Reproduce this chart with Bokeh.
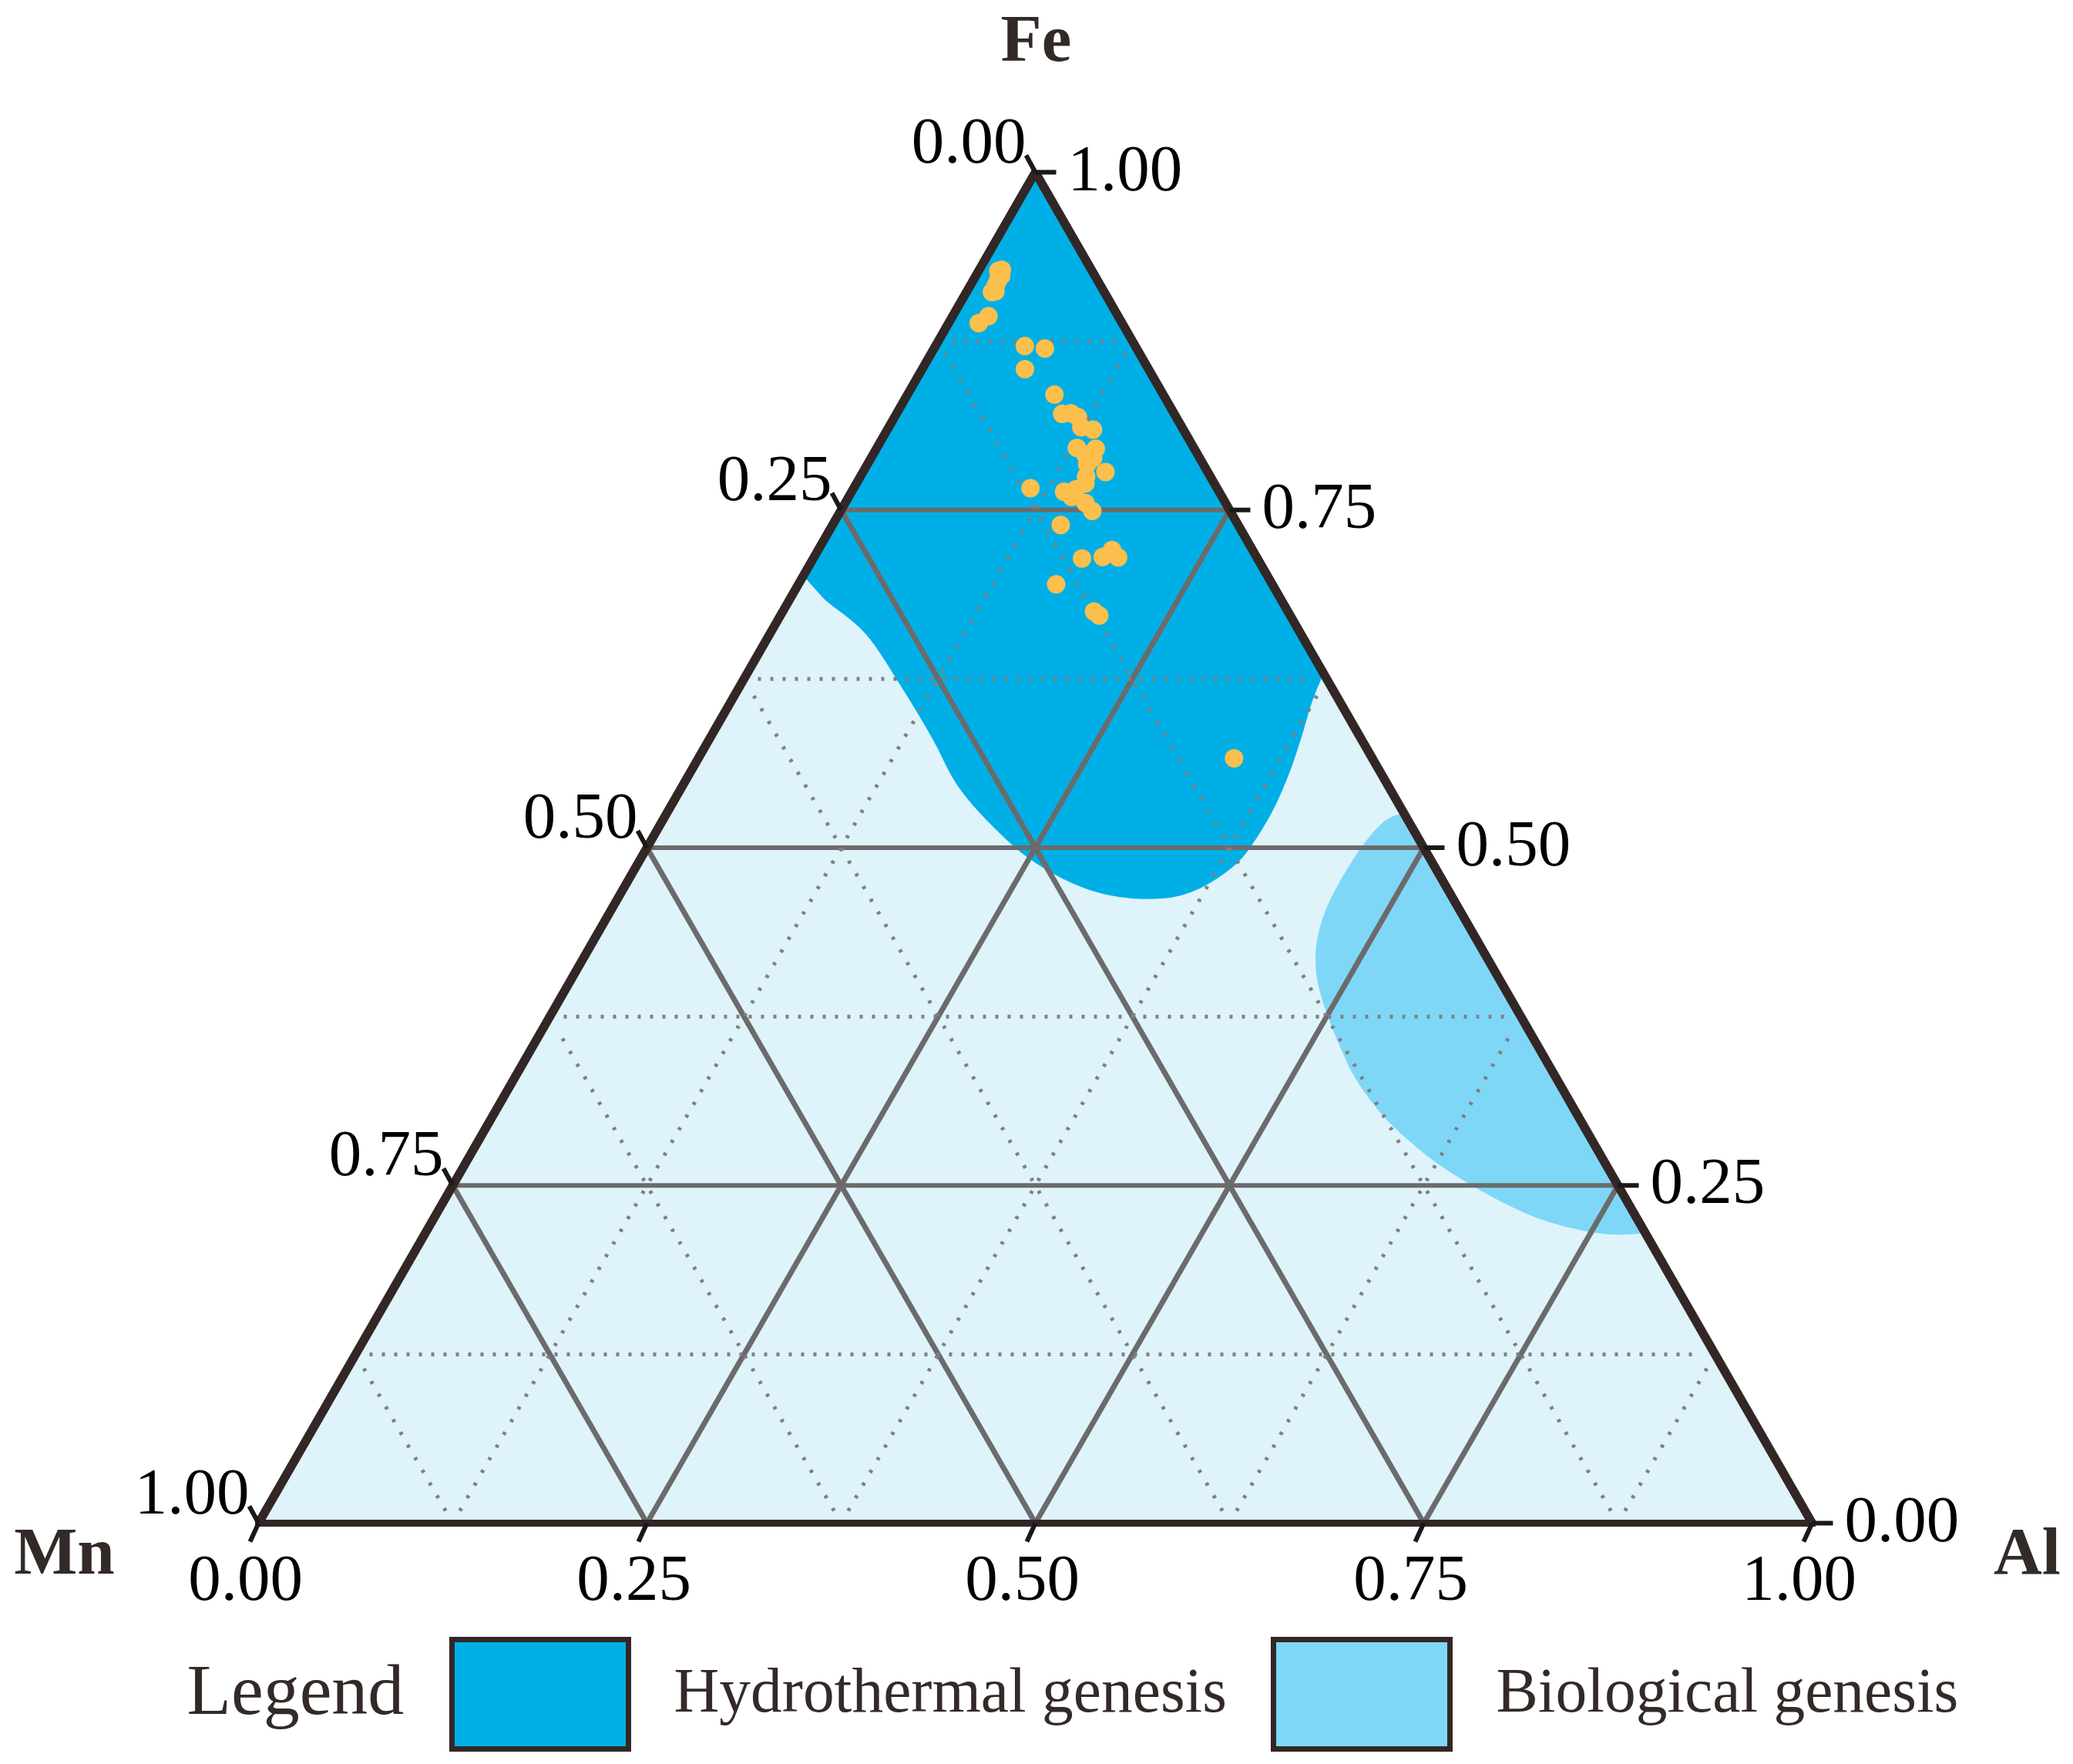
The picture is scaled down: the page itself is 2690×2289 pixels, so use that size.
from bokeh.plotting import figure
from bokeh.embed import file_html
from bokeh.resources import INLINE
from bokeh.core.properties import value

# ---------- data ----------
point_fe = [.9278,.9270,.9232,.9194,.9156,.9113,.9118,.8934,.8883,.8713,.8695,.8542,.8354,.8211,.8216,.8188,.8112,.8094,.7959,.7954,.7908,.7883,.7839,.7781,.7748,.7697,.7661,.7636,.7653,.7597,.7551,.7493,.7389,.7141,.7152,.7203,.7149,.6950,.6749,.6719,.5662]
point_al = [.0145,.0127,.0164,.0161,.0165,.0164,.0184,.0231,.0194,.0576,.0714,.0662,.0946,.1067,.1121,.1180,.1240,.1324,.1288,.1412,.1369,.1430,.1414,.1561,.1453,.1474,.1138,.1367,.1434,.1435,.1547,.1620,.1469,.1730,.1858,.1892,.1958,.1659,.2003,.2052,.3448]

hydro_fe = [.7013,.6889,.6823,.6718,.6632,.6537,.6385,.6243,.6081,.5910,.5758,.5606,.5473,.5321,.5168,.5026,.4931,.4836,.4741,.4665,.4627,.4617,.4632,.4693,.4798,.4921,.5092,.5263,.5454,.5644,.5872,.6081,.6290]
hydro_al = [.0000,.0158,.0242,.0420,.0552,.0675,.0840,.0987,.1157,.1331,.1483,.1622,.1752,.1929,.2132,.2330,.2478,.2652,.2852,.3067,.3263,.3420,.3589,.3711,.3810,.3875,.3891,.3894,.3875,.3843,.3792,.3738,.3710]

bio_fe = [.5257,.5224,.5148,.5028,.4897,.4733,.4558,.4384,.4209,.4034,.3860,.3674,.3510,.3336,.3183,.3008,.2856,.2692,.2561,.2445,.2343,.2255,.2196,.2153,.2131,.2146]
bio_al = [.4743,.4662,.4624,.4598,.4587,.4583,.4594,.4630,.4695,.4793,.4918,.5070,.5212,.5367,.5529,.5736,.5949,.6202,.6438,.6667,.6889,.7103,.7304,.7496,.7678,.7854]

major = [0.25, 0.50, 0.75]
minor = [0.125, 0.375, 0.625, 0.875]
tick_values = [0.0, 0.25, 0.5, 0.75, 1.0]
tick_labels = ["0.00", "0.25", "0.50", "0.75", "1.00"]
legend_labels = ["Hydrothermal genesis", "Biological genesis"]
legend_colors = ["#00afe6", "#7fd7f8"]

# ---------- page geometry: ternary frame in page pixels ----------
X0, X1, Y_BOT, Y_TOP = 335.0, 2351.0, 1976.0, 223.0
SX, SY = X1 - X0, Y_BOT - Y_TOP
ORG = 0
W, H = 2682, 2281
def dx(px): return px / SX
def dy(px): return px / SY
def px_x(px): return (px - X0) / SX
def px_y(py): return (Y_BOT - py) / SY
def tx(fe, al): return al + fe / 2
def txs(fe, al): return [tx(f, a) for f, a in zip(fe, al)]

def rounded(fe, al, passes=3):
    """Draw the outline as a curve: corner-cut between the read points, ends kept."""
    pts = list(zip(fe, al))
    for _ in range(passes):
        out = [pts[0]]
        for (a0, b0), (a1, b1) in zip(pts[:-1], pts[1:]):
            out.append((.75 * a0 + .25 * a1, .75 * b0 + .25 * b1))
            out.append((.25 * a0 + .75 * a1, .25 * b0 + .75 * b1))
        out.append(pts[-1])
        pts = out
    return [q[0] for q in pts], [q[1] for q in pts]

p = figure(width=W, height=H, output_backend="svg", toolbar_location=None,
           x_range=(px_x(ORG), px_x(ORG + W)), y_range=(px_y(ORG + H), px_y(ORG)),
           x_axis_type=None, y_axis_type=None, min_border=0,
           background_fill_color="white", border_fill_color="white", outline_line_color=None)
p.grid.visible = False

TICK = "#1c1718"; BORDER = "#322725"; TXT = "#332a28"; GRID = "#6b6b6b"
FONT = value("Liberation Serif")

# ---------- filled regions ----------
tri_fe = [0.0, 0.0, 1.0]
tri_al = [0.0, 1.0, 0.0]
p.patch(txs(tri_fe, tri_al), tri_fe, fill_color="#dff3fb", line_color=None)
hf, ha = rounded(hydro_fe, hydro_al)
hf, ha = [1.0] + hf, [0.0] + ha
p.patch(txs(hf, ha), hf, fill_color=legend_colors[0], line_color=None)
bf, ba = rounded(bio_fe, bio_al)
p.patch(txs(bf, ba), bf, fill_color=legend_colors[1], line_color=None)

# ---------- grid ----------
def lines(levels, inset):
    hx, hy, dxs, dys = [], [], [], []
    for v in levels:
        hx.append([tx(v, 0) + inset, tx(v, 1 - v) - inset]); hy.append([v, v])
        dxs.append([tx(0, v), tx(1 - v, v)]); dys.append([0, 1 - v])
        dxs.append([tx(0, 1 - v), tx(1 - v, 0)]); dys.append([0, 1 - v])
    return hx, hy, dxs, dys

hx, hy, ax, ay = lines(major, 0)
p.multi_line(hx, hy, line_color=GRID, line_width=6)
p.multi_line(ax, ay, line_color=GRID, line_width=7)

hx, hy, ax, ay = lines(minor, 18 / SX)
short = 16 / SY
ax2, ay2 = [], []
for xs, ys in zip(ax, ay):
    t0 = short / ys[1]
    ax2.append([xs[0] + (xs[1] - xs[0]) * t0, xs[1] - (xs[1] - xs[0]) * t0])
    ay2.append([ys[0] + (ys[1] - ys[0]) * t0, ys[1] - (ys[1] - ys[0]) * t0])
r1 = p.multi_line(hx, hy, line_color="#808080", line_width=5)
r1.glyph.line_dash = [4, 12]
r2 = p.multi_line(ax2, ay2, line_color="#808080", line_width=5)
r2.glyph.line_dash = [4, 15]

# ---------- points ----------
p.scatter(txs(point_fe, point_al), point_fe, size=24, marker="circle",
          fill_color="#fdbf4c", line_color=None)

# ---------- frame ----------
sides_fe = [1.0, 0.0, 0.0, 1.0]
sides_al = [0.0, 0.0, 1.0, 0.0]
p.line(txs(sides_fe[:2], sides_al[:2]), sides_fe[:2], line_color=BORDER, line_width=11.5, line_cap="butt")
p.line(txs(sides_fe[2:], sides_al[2:]), sides_fe[2:], line_color=BORDER, line_width=11.5, line_cap="butt")
p.line(txs(sides_fe[1:3], sides_al[1:3]), sides_fe[1:3], line_color=BORDER, line_width=9, line_cap="square")

# ---------- ticks and tick labels ----------
bx, by, rx, ry, lx, ly = [], [], [], [], [], []
for v in tick_values:
    bx.append([tx(0, v), tx(0, v) + dx(-11)]); by.append([0, dy(-24)])
    rx.append([tx(v, 1 - v), tx(v, 1 - v) + dx(27)]); ry.append([v, v])
    lx.append([tx(1 - v, 0), tx(1 - v, 0) + dx(-12)]); ly.append([1 - v, 1 - v + dy(22)])
p.multi_line(bx + rx + lx, by + ry + ly, line_color=TICK, line_width=6)

common = dict(text_font=FONT, text_font_size="85px", text_color="black")
p.text([tx(0, v) for v in tick_values], [0.0] * 5, text=tick_labels,
       x_offset=-17, y_offset=71, text_align="center", text_baseline="middle", **common)
p.text([tx(v, 1 - v) for v in tick_values], tick_values, text=tick_labels,
       x_offset=42, y_offset=-5, text_align="left", text_baseline="middle", **common)
p.text([tx(1 - v, 0) for v in tick_values], [1 - v for v in tick_values], text=tick_labels,
       x_offset=-12, y_offset=-41, text_align="right", text_baseline="middle", **common)

# ---------- axis titles ----------
titles = ["Fe", "Mn", "Al"]
title_x = [px_x(1344), px_x(83), px_x(2630)]
title_y = [px_y(49), px_y(2012), px_y(2012)]
p.text(title_x, title_y, text=titles, text_font=FONT, text_font_style="bold", text_font_size="87px",
       text_color=TXT, text_align="center", text_baseline="middle")

# ---------- legend ----------
p.text([px_x(242)], [px_y(2191)], text=["Legend"], text_font=FONT, text_font_size="94px",
       text_color=TXT, text_align="left", text_baseline="middle")
p.quad(left=[px_x(586), px_x(1652)], right=[px_x(815), px_x(1881)],
       top=[px_y(2127)] * 2, bottom=[px_y(2269)] * 2,
       fill_color=legend_colors, line_color=BORDER, line_width=7, line_join="miter")
p.text([px_x(874), px_x(1941)], [px_y(2193)] * 2, text=legend_labels, text_font=FONT,
       text_font_size="81.5px", text_color=TXT, text_align="left", text_baseline="middle")

open("out.html", "w").write(file_html(p, INLINE))
